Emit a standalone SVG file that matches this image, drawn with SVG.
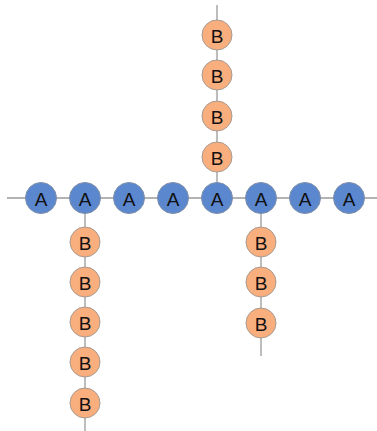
<svg xmlns="http://www.w3.org/2000/svg" width="377" height="431" viewBox="0 0 377 431">
<style>
.l{stroke:#9a9a9a;stroke-width:1.3;fill:none}
.a{fill:#5b87cf;stroke:#7f8fa8;stroke-width:1}
.b{fill:#f9ae7d;stroke:#a89a90;stroke-width:1}
text{font-family:"Liberation Sans",Arial,sans-serif;font-size:19px;fill:#111;text-anchor:middle;dominant-baseline:central}
</style>
<rect width="377" height="431" fill="#fff"/>
<g id="connectors">
<line class="l" x1="7" y1="198" x2="377" y2="198"/>
<line class="l" x1="217" y1="5" x2="217" y2="198"/>
<line class="l" x1="85" y1="198" x2="85" y2="431"/>
<line class="l" x1="261" y1="198" x2="261" y2="356"/>
</g>
<g id="a1"><circle class="a" cx="41" cy="198" r="15.5"/><text x="41" y="199">A</text></g>
<g id="a2"><circle class="a" cx="85" cy="198" r="15.5"/><text x="85" y="199">A</text></g>
<g id="a3"><circle class="a" cx="129" cy="198" r="15.5"/><text x="129" y="199">A</text></g>
<g id="a4"><circle class="a" cx="173" cy="198" r="15.5"/><text x="173" y="199">A</text></g>
<g id="a5"><circle class="a" cx="217" cy="198" r="15.5"/><text x="217" y="199">A</text></g>
<g id="a6"><circle class="a" cx="261" cy="198" r="15.5"/><text x="261" y="199">A</text></g>
<g id="a7"><circle class="a" cx="305" cy="198" r="15.5"/><text x="305" y="199">A</text></g>
<g id="a8"><circle class="a" cx="349" cy="198" r="15.5"/><text x="349" y="199">A</text></g>
<g id="bt1"><circle class="b" cx="217" cy="35" r="15"/><text x="217" y="36">B</text></g>
<g id="bt2"><circle class="b" cx="217" cy="75" r="15"/><text x="217" y="76">B</text></g>
<g id="bt3"><circle class="b" cx="217" cy="116" r="15"/><text x="217" y="117">B</text></g>
<g id="bt4"><circle class="b" cx="217" cy="157" r="15"/><text x="217" y="158">B</text></g>
<g id="bl1"><circle class="b" cx="85" cy="242" r="15"/><text x="85" y="243">B</text></g>
<g id="bl2"><circle class="b" cx="85" cy="282" r="15"/><text x="85" y="283">B</text></g>
<g id="bl3"><circle class="b" cx="85" cy="322" r="15"/><text x="85" y="323">B</text></g>
<g id="bl4"><circle class="b" cx="85" cy="362" r="15"/><text x="85" y="363">B</text></g>
<g id="bl5"><circle class="b" cx="85" cy="403" r="15"/><text x="85" y="404">B</text></g>
<g id="br1"><circle class="b" cx="261" cy="242" r="15"/><text x="261" y="243">B</text></g>
<g id="br2"><circle class="b" cx="261" cy="282" r="15"/><text x="261" y="283">B</text></g>
<g id="br3"><circle class="b" cx="261" cy="323" r="15"/><text x="261" y="324">B</text></g>
</svg>
